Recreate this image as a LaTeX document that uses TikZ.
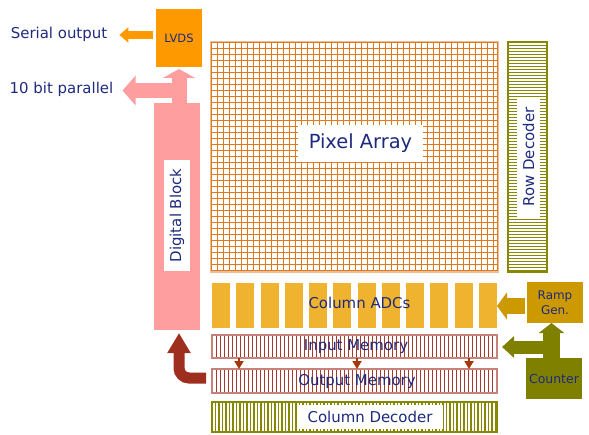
\documentclass[tikz,border=0pt]{standalone}
\usepackage{fontspec}
\setmainfont{DejaVu Sans}
\usetikzlibrary{arrows.meta,calc}
\definecolor{navy}{RGB}{30,42,125}
\definecolor{lvdsorange}{RGB}{255,153,0}
\definecolor{pinkblk}{RGB}{255,158,158}
\definecolor{gridor}{RGB}{224,120,30}
\definecolor{gridbd}{RGB}{236,190,150}
\definecolor{olivec}{RGB}{128,128,0}
\definecolor{stripeol}{RGB}{136,136,0}
\definecolor{adcgold}{RGB}{239,179,47}
\definecolor{rampgold}{RGB}{204,153,0}
\definecolor{memline}{RGB}{168,58,44}
\definecolor{membd}{RGB}{200,130,122}
\definecolor{darkred}{RGB}{158,46,30}
\definecolor{smallar}{RGB}{165,55,10}
\begin{document}
\begin{tikzpicture}[x=1bp,y=-1bp,
  area/.style={anchor=north west, inner sep=0pt, outer sep=0pt},
  txt/.style={text=navy, inner sep=0pt},
  lbl/.style={text=navy, fill=white, inner sep=0pt},
  f15/.style={font=\fontsize{15}{18}\selectfont},
  pixline/.style={draw=gridor, line width=1.5bp},
  memstripe/.style={draw=memline, line width=1.1bp},
  decstripe/.style={draw=stripeol, line width=1.1bp},
  pinkarr/.style={draw=pinkblk, line width=15bp},
  olarr/.style={draw=olivec},
  smallarrow/.style={draw=smallar, line width=2.2bp, -{Triangle[width=9bp,length=8bp]}}
]
\useasboundingbox (0,0) rectangle (589,435);

% blocks
\node[area, fill=lvdsorange, minimum width=46bp, minimum height=58bp] (lvds) at (156,9) {};
\node[txt, font=\fontsize{11.5}{13}\selectfont] at (lvds.center) {LVDS};
\node[area, fill=pinkblk, minimum width=46bp, minimum height=227bp] (dig) at (154,103) {};
\node[area, minimum width=286bp, minimum height=229bp] (pix) at (211,42) {};
\node[area, minimum width=39bp, minimum height=230bp] (rowdec) at (508,42) {};
\node[area, minimum width=285bp, minimum height=45bp] (adc) at (212,283) {};
\node[area, minimum width=285bp, minimum height=23bp] (inmem) at (212,335) {};
\node[area, minimum width=285bp, minimum height=24bp] (outmem) at (212,369) {};
\node[area, minimum width=285bp, minimum height=30bp] (coldec) at (212,402) {};
\node[area, fill=rampgold, minimum width=56bp, minimum height=41bp] (ramp) at (527,282) {};
\node[area, fill=olivec, minimum width=56bp, minimum height=41bp] (counter) at (526,358) {};

% pixel array grid
\draw[gridbd, line width=1.5bp] ([shift={(-0.5,-0.5)}]pix.north west) rectangle ([shift={(1,1)}]pix.south east);
\foreach \i in {0,...,47}
  \draw[pixline] ($(pix.north west)+(\i*6+0.5,0)$) -- ($(pix.south west)+(\i*6+0.5,0)$);
\draw[pixline] ($(pix.north east)+(0.5,0)$) -- ($(pix.south east)+(0.5,0)$);
\foreach \j in {0,...,38}
  \draw[pixline] ($(pix.north west)+(0,\j*6+0.5)$) -- ($(pix.north east)+(1,\j*6+0.5)$);

% row decoder stripes
\foreach \j in {1,...,76}
  \draw[decstripe] ($(rowdec.north west)+(0,\j*3+0.5)$) -- ($(rowdec.north east)+(0,\j*3+0.5)$);
\draw[stripeol, line width=1.5bp] (rowdec.north west) rectangle (rowdec.south east);

% column ADC bars
\foreach \i in {0,...,11}
  \fill[adcgold] ($(adc.north west)+(\i*24.27,0)$) rectangle ++(18,45);

% memories
\foreach \i in {1,...,71}{
  \draw[memstripe] ($(inmem.north west)+(\i*4+0.5,0)$) -- ($(inmem.south west)+(\i*4+0.5,0)$);
  \draw[memstripe] ($(outmem.north west)+(\i*4+0.5,0)$) -- ($(outmem.south west)+(\i*4+0.5,0)$);
}
\draw[membd, line width=1.6bp] (inmem.north west) rectangle (inmem.south east);
\draw[membd, line width=1.6bp] (outmem.north west) rectangle (outmem.south east);

% column decoder stripes
\foreach \i in {1,...,81}
  \draw[decstripe, line width=1.3bp] ($(coldec.north west)+(\i*3.5,0)$) -- ($(coldec.south west)+(\i*3.5,0)$);
\draw[stripeol, line width=1.5bp] (coldec.north west) rectangle (coldec.south east);

% texts
\node[txt, f15] (ser) at (59,34) {Serial output};
\node[txt, f15] (par) at (61.5,89) {10 bit parallel};
\node[lbl, minimum width=125bp, minimum height=37bp, font=\fontsize{19.5}{22}\selectfont] at (360.5,143.5) {Pixel Array};
\node[lbl, f15, rotate=90, minimum width=111bp, minimum height=26bp] at (177,215.5) {Digital Block};
\node[lbl, f15, rotate=90, minimum width=120bp, minimum height=23bp] at (528.5,157) {Row Decoder};
\node[txt, f15] at (359.5,303) {Column ADCs};
\node[txt, f15] at (356,347) {Input Memory};
\node[txt, f15] at (357,382) {Output Memory};
\node[lbl, f15, minimum width=146bp, minimum height=24bp] at (370,417) {Column Decoder};
\node[txt, align=center, font=\fontsize{12}{15}\selectfont] at (ramp.center) {Ramp\\Gen.};
\node[txt, font=\fontsize{12.5}{15}\selectfont] at (counter.center) {Counter};

% connectors
\coordinate (pj) at (186.5,90.5);
\coordinate (cj) at (551.5,347);
\draw[lvdsorange, line width=8bp, shorten <=3bp, -{Triangle[width=15bp,length=9bp]}]
  (lvds.west |- 0,35) -- ([xshift=12bp]ser.east |- 0,35);
\draw[pinkarr, shorten >=2bp, -{Triangle[width=32bp,length=9bp]}] (lvds.south |- dig.north) -- (lvds.south);
\draw[pinkarr, -{Triangle[width=29bp,length=13bp]}] (pj) -- ([xshift=9bp]par.east |- pj);
\draw[rampgold, line width=16bp, shorten <=2bp, -{Triangle[width=27bp,length=10bp]}]
  ([yshift=-3.5bp]ramp.west) -- ([yshift=-3.5bp]ramp.west -| adc.east);
\draw[olarr, line width=17bp, -{Triangle[width=25bp,length=10bp]}] (counter.north -| cj) -- (ramp.south -| cj);
\draw[olarr, line width=13bp, -{Triangle[width=21bp,length=12bp]}] ([xshift=8bp]cj) -- ([xshift=5bp]inmem.east |- cj);
\draw[darkred, line width=11bp, rounded corners=10bp, shorten <=6bp, shorten >=3bp, -{Triangle[width=22bp,length=20bp]}]
  ([yshift=3bp]outmem.west) -| ([xshift=2bp]dig.south);
\foreach \d in {27,145,257}
  \draw[smallarrow] ([xshift=\d bp]inmem.south west) -- ([xshift=\d bp]outmem.north west);
\end{tikzpicture}
\end{document}
